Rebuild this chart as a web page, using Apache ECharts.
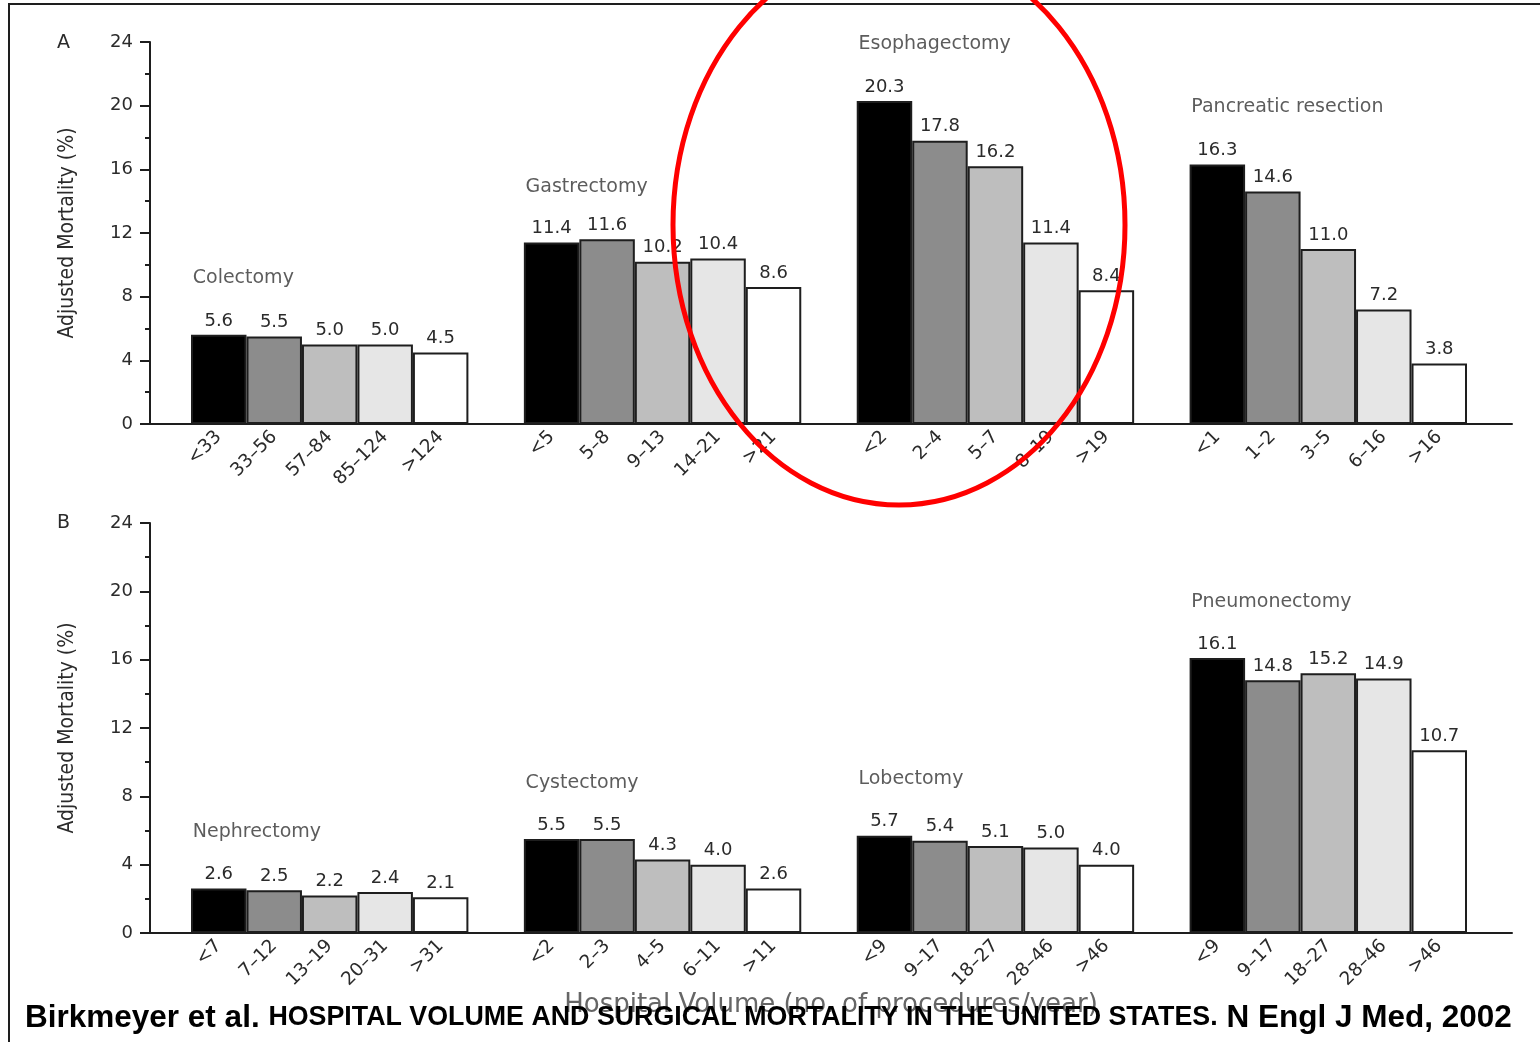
<!DOCTYPE html>
<html>
<head>
<meta charset="utf-8">
<title>Hospital volume and surgical mortality</title>
<script src="https://cdn.jsdelivr.net/npm/echarts@6/dist/echarts.min.js"></script>
<style>
  html, body { margin: 0; padding: 0; background: #fff; }
  #chart { width: 1540px; height: 1042px; }
</style>
</head>
<body>
<div id="chart"></div>
<script>
// panel A
const groupsA = ['Colectomy', 'Gastrectomy', 'Esophagectomy', 'Pancreatic resection']
const volumesA = [
  ['<33', '33–56', '57–84', '85–124', '>124'],
  ['<5', '5–8', '9–13', '14–21', '>21'],
  ['<2', '2–4', '5–7', '8–19', '>19'],
  ['<1', '1–2', '3–5', '6–16', '>16'],
]
const mortalityA = [
  [5.6, 5.5, 5.0, 5.0, 4.5],
  [11.4, 11.6, 10.2, 10.4, 8.6],
  [20.3, 17.8, 16.2, 11.4, 8.4],
  [16.3, 14.6, 11.0, 7.2, 3.8],
]

// panel B
const groupsB = ['Nephrectomy', 'Cystectomy', 'Lobectomy', 'Pneumonectomy']
const volumesB = [
  ['<7', '7–12', '13–19', '20–31', '>31'],
  ['<2', '2–3', '4–5', '6–11', '>11'],
  ['<9', '9–17', '18–27', '28–46', '>46'],
  ['<9', '9–17', '18–27', '28–46', '>46'],
]
const mortalityB = [
  [2.6, 2.5, 2.2, 2.4, 2.1],
  [5.5, 5.5, 4.3, 4.0, 2.6],
  [5.7, 5.4, 5.1, 5.0, 4.0],
  [16.1, 14.8, 15.2, 14.9, 10.7],
]

const yTicks = [0, 4, 8, 12, 16, 20, 24]

// grey shade per volume quintile (lowest volume = black)
const shades = ['#000000', '#8c8c8c', '#bebebe', '#e6e6e6', '#ffffff']

// where the procedure names sit (value on the y scale)
const titleYA = [9.2, 14.9, 23.9, 19.9]
const titleYB = [5.9, 8.8, 9.0, 19.4]

// flatten groups into one category axis, with an empty slot between groups
const flatCats = (vols) => {
  const out = []
  vols.forEach((g, gi) => {
    g.forEach(v => out.push(v))
    if (gi < vols.length - 1) out.push(' '.repeat(gi + 1))
  })
  return out
}
const flatVals = (vals) => {
  const out = []
  vals.forEach((g, gi) => {
    g.forEach(v => out.push(v))
    if (gi < vals.length - 1) out.push('-')
  })
  return out
}

const font = "'DejaVu Sans', sans-serif"
const ink = '#2b2b2b'

const outerX = (gi, withName) => ({
  gridIndex: gi, type: 'value', min: 0, max: 1,
  axisLine: { show: true, onZero: false, lineStyle: { color: '#1e1e1e', width: 2 } },
  axisTick: { show: false }, axisLabel: { show: false }, splitLine: { show: false },
  name: withName ? 'Hospital Volume (no. of procedures/year)' : '',
  nameLocation: 'middle', nameGap: 59,
  nameTextStyle: { fontFamily: font, fontSize: 26, color: '#666' },
})
const innerX = (gi, cats) => ({
  gridIndex: gi, type: 'category', data: cats, boundaryGap: true,
  axisLine: { show: false }, axisTick: { show: false },
  axisLabel: { interval: 0, rotate: 45, margin: 10, fontFamily: font, fontSize: 18.5, color: ink },
})
const outerY = (gi) => ({
  gridIndex: gi, type: 'value', min: 0, max: 24, interval: 4,
  axisLine: { show: true, lineStyle: { color: '#1e1e1e', width: 2 } },
  axisTick: { show: true, length: 10, lineStyle: { color: '#1e1e1e', width: 2 } },
  minorTick: { show: true, splitNumber: 2, length: 5, lineStyle: { color: '#1e1e1e', width: 2 } },
  splitLine: { show: false },
  axisLabel: { fontFamily: font, fontSize: 18, color: ink, margin: 17,
    formatter: v => yTicks.includes(v) ? String(v) : '' },
  name: 'Adjusted Mortality (%)', nameLocation: 'middle', nameGap: 72, nameRotate: 90,
  nameTextStyle: { fontStyle: 'condensed', fontFamily: "'DejaVu Sans', sans-serif", fontSize: 21, color: ink },
})
const innerY = (gi) => ({
  gridIndex: gi, type: 'value', min: 0, max: 24, show: false, splitLine: { show: false },
})

const barSeries = (axisIdx, vals) => ({
  type: 'bar', xAxisIndex: axisIdx, yAxisIndex: axisIdx,
  data: flatVals(vals), barCategoryGap: '0%',
  itemStyle: {
    color: p => shades[p.dataIndex % 6] || '#fff',
    borderColor: '#1e1e1e', borderWidth: 2,
  },
  label: {
    show: true, position: 'top', distance: 5,
    fontFamily: font, fontSize: 18, color: ink,
    formatter: p => Number(p.value).toFixed(1),
  },
  z: 2,
})

// procedure names, anchored to the first bar of each group
const titleSeries = (axisIdx, names, ys) => ({
  type: 'scatter', xAxisIndex: axisIdx, yAxisIndex: axisIdx,
  symbolSize: 0, silent: true,
  data: names.map((n, i) => ({ value: [i * 6, ys[i]], name: n })),
  label: {
    show: true, position: 'inside', align: 'left', offset: [-26, 0],
    formatter: p => p.name, fontFamily: font, fontSize: 19, color: '#333',
  },
})

const chart = echarts.init(document.getElementById('chart'), null, { renderer: 'canvas' })
chart.setOption({
  backgroundColor: '#fff',
  animation: false,
  grid: [
    { left: 150, right: 28, top: 42, bottom: 618 },
    { left: 191, right: 73, top: 42, bottom: 618 },
    { left: 150, right: 28, top: 523, bottom: 109 },
    { left: 191, right: 73, top: 523, bottom: 109 },
  ],
  xAxis: [outerX(0, false), innerX(1, flatCats(volumesA)), outerX(2, true), innerX(3, flatCats(volumesB))],
  yAxis: [outerY(0), innerY(1), outerY(2), innerY(3)],
  series: [
    barSeries(1, mortalityA),
    barSeries(3, mortalityB),
    titleSeries(1, groupsA, titleYA),
    titleSeries(3, groupsB, titleYB),
  ],
  graphic: [
    { type: 'rect', z: 50, shape: { x: 9, y: 4, width: 1560, height: 1100 },
      style: { fill: null, stroke: '#1e1e1e', lineWidth: 2 } },
    { type: 'text', z: 50, x: 57, y: 43, style: { text: 'A', font: '19px ' + font, fill: ink, textVerticalAlign: 'middle' } },
    { type: 'text', z: 50, x: 57, y: 523, style: { text: 'B', font: '19px ' + font, fill: ink, textVerticalAlign: 'middle' } },
    {
      type: 'text', z: 60, x: 25, y: 1018,
      style: {
        text: '{a|Birkmeyer et al. }{b|HOSPITAL VOLUME AND SURGICAL MORTALITY IN THE UNITED STATES.}{a| N Engl J Med, 2002}',
        textVerticalAlign: 'middle',
        rich: {
          a: { fontFamily: "'Liberation Sans', Arial, sans-serif", fontWeight: 'bold', fontSize: 31.5, fill: '#000' },
          b: { fontFamily: "'Liberation Sans', Arial, sans-serif", fontWeight: 'bold', fontSize: 26.8, fill: '#000' },
        },
      },
    },
    { type: 'ellipse', z: 70, shape: { cx: 899, cy: 225, rx: 226, ry: 280 },
      style: { fill: null, stroke: '#ff0000', lineWidth: 5 } },
  ],
})
</script>
</body>
</html>
